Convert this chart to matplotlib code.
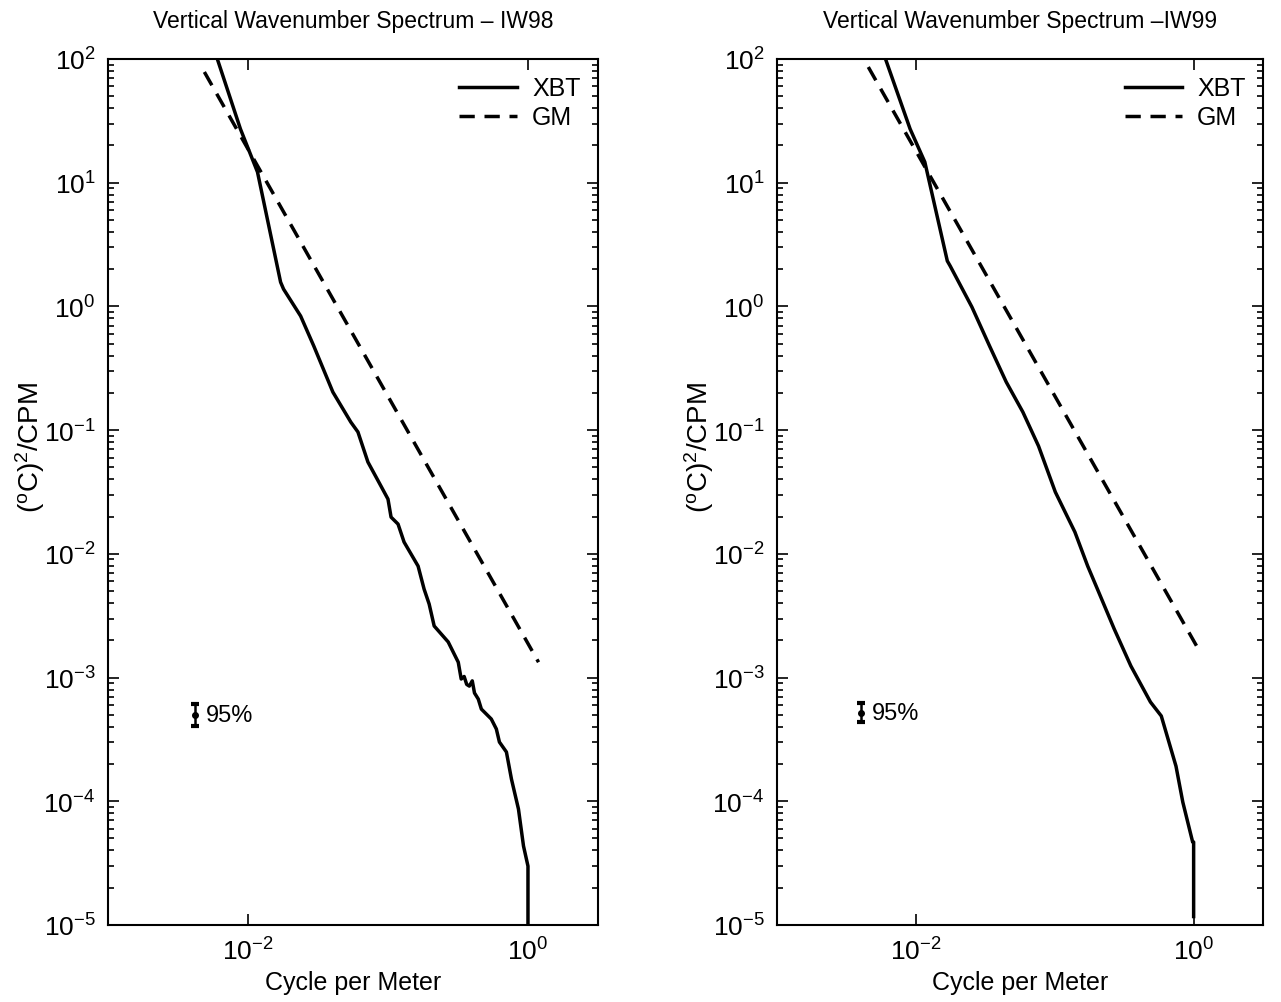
import numpy as np
import matplotlib
matplotlib.use("Agg")
import matplotlib.pyplot as plt
from matplotlib.ticker import FixedLocator, NullLocator, LogFormatterSciNotation

plt.rcParams['font.family'] = ['Liberation Sans', 'DejaVu Sans']
plt.rcParams['mathtext.fontset'] = 'custom'
plt.rcParams['mathtext.rm'] = 'Liberation Sans'
plt.rcParams['mathtext.it'] = 'Liberation Sans:italic'
plt.rcParams['mathtext.default'] = 'regular'
plt.rcParams['lines.scale_dashes'] = False

# --- IW98 (left) ---
k98 = [0.00604, 0.00883, 0.01169, 0.0171, 0.01795, 0.02377, 0.0295, 0.0404,
       0.0543, 0.0610, 0.0719, 0.0891, 0.100, 0.1052, 0.1180, 0.1303, 0.1641,
       0.1811, 0.1968, 0.2138, 0.2692, 0.3177, 0.3334, 0.3500, 0.3650, 0.3811,
       0.4000, 0.4150, 0.4416, 0.4645, 0.5470, 0.5943, 0.6252, 0.7015, 0.7621,
       0.8551, 0.9290, 1.0, 1.0]
xbt98 = [100, 27.2, 12.2, 1.57, 1.38, 0.836, 0.479, 0.203,
         0.116, 0.0966, 0.0552, 0.0353, 0.0277, 0.0198, 0.0174, 0.01245, 0.00796,
         0.00519, 0.00393, 0.00261, 0.00194, 0.00133, 0.000973, 0.00102, 0.00088, 0.000853,
         0.00094, 0.00075, 0.000670, 0.000556, 0.000462, 0.000384, 0.000301, 0.000250, 0.000151,
         0.0000865, 0.0000435, 0.0000299, 0.00001]
gm98_k = [0.00488, 1.19]
gm98 = [78.5, 0.00133]
err98_k, err98, err98_lo, err98_hi = 0.0042, 5.0e-4, 4.05e-4, 6.1e-4

# --- IW99 (right) ---
k99 = [0.00604, 0.00908, 0.01159, 0.01683, 0.01766, 0.0253, 0.0339, 0.0447,
       0.0589, 0.0764, 0.1009, 0.1186, 0.1396, 0.1726, 0.2028, 0.2679, 0.3532,
       0.4887, 0.5848, 0.7464, 0.8356, 0.984, 1.0, 1.0]
xbt99 = [100, 27.2, 14.7, 2.33, 2.12, 0.989, 0.479, 0.245,
         0.140, 0.0743, 0.0316, 0.0218, 0.0150, 0.00796, 0.00519, 0.00247, 0.00124,
         0.000634, 0.000489, 0.000192, 0.0000984, 0.0000468, 0.0000468, 0.0000117]
gm99_k = [0.00454, 1.059]
gm99 = [86.1, 0.00177]
err99_k, err99, err99_lo, err99_hi = 0.0040, 5.2e-4, 4.4e-4, 6.2e-4

y_major = [1e-5, 1e-4, 1e-3, 1e-2, 1e-1, 1e0, 1e1, 1e2]
y_minor = [m * d for d in y_major[:-1] for m in range(2, 10)]

fig = plt.figure(figsize=(12.81, 10.03), dpi=100)
ax1 = fig.add_axes([0.0843, 0.0768, 0.3825, 0.8634])
ax2 = fig.add_axes([0.6066, 0.0768, 0.3794, 0.8634])

panels = [
    (ax1, k98, xbt98, gm98_k, gm98, (err98_k, err98, err98_lo, err98_hi),
     "Vertical Wavenumber Spectrum \u2013 IW98"),
    (ax2, k99, xbt99, gm99_k, gm99, (err99_k, err99, err99_lo, err99_hi),
     "Vertical Wavenumber Spectrum \u2013IW99"),
]

for ax, k, s, gk, g, (ek, ev, elo, ehi), title in panels:
    ax.loglog(k, s, color='black', lw=2.5, label='XBT')
    ax.loglog(gk, g, color='black', lw=2.5, dashes=(11, 7), label='GM')
    ax.errorbar([ek], [ev], yerr=[[ev - elo], [ehi - ev]], fmt='o', color='black',
                ms=4, capsize=3, capthick=3, elinewidth=1.8)
    ax.text(ek * 1.2, ev, "95%", fontsize=17, va='center', ha='left')
    ax.set_xlim(1e-3, 10**0.5)
    ax.set_ylim(1e-5, 1e2)
    ax.xaxis.set_major_locator(FixedLocator([1e-2, 1e0]))
    ax.xaxis.set_major_formatter(LogFormatterSciNotation())
    ax.xaxis.set_minor_locator(NullLocator())
    ax.yaxis.set_major_locator(FixedLocator(y_major))
    ax.yaxis.set_major_formatter(LogFormatterSciNotation())
    ax.yaxis.set_minor_locator(FixedLocator(y_minor))
    ax.tick_params(which='both', direction='in', top=True, right=True, labelsize=19,
                   width=1.2)
    ax.tick_params(which='major', length=8, pad=9)
    ax.tick_params(which='minor', length=4)
    for sp in ax.spines.values():
        sp.set_linewidth(1.5)
    ax.set_title(title, fontsize=16.5, pad=23)
    ax.set_xlabel("Cycle per Meter", fontsize=18, labelpad=4)
    ax.set_ylabel(r"$(^{o}C)^{2}$/CPM", fontsize=20)
    ax.yaxis.set_label_coords(-0.125, 0.553)
    ax.legend(loc='upper right', frameon=False, fontsize=18, handlelength=2.3,
              borderaxespad=0.3, labelspacing=0.2, handletextpad=0.6)

fig.savefig("out.png", dpi=100)
